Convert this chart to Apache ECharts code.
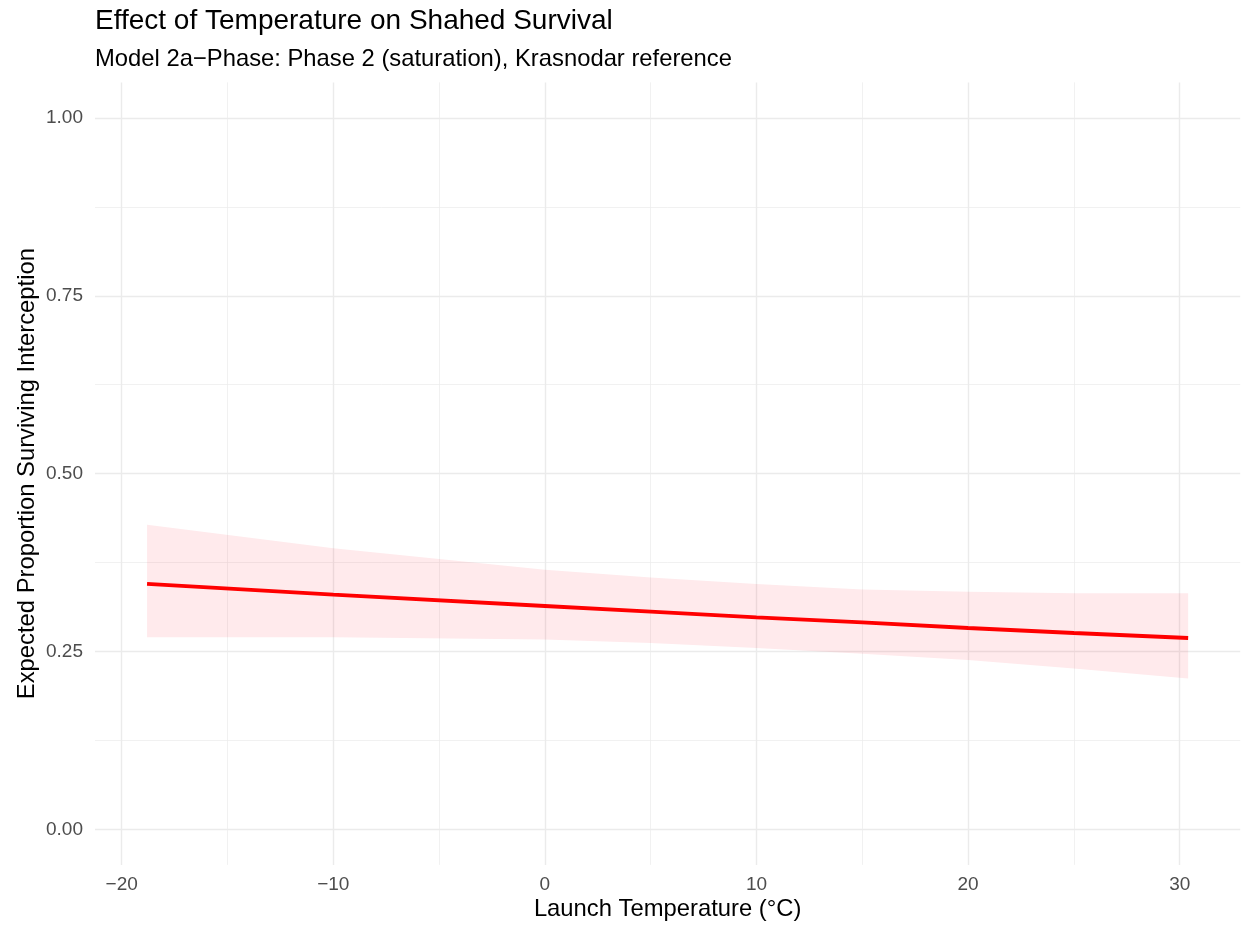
<!DOCTYPE html>
<html>
<head>
<meta charset="utf-8">
<script src="https://cdn.jsdelivr.net/npm/echarts@6/dist/echarts.min.js"></script>
<style>
  html, body { margin: 0; padding: 0; background: #fff; }
  #main { width: 1243px; height: 926px; }
</style>
</head>
<body>
<div id="main"></div>
<script>
// launch temperature (°C) and model predictions
const tempC  = [-18.8, -10, 0, 5, 10, 15, 20, 25, 30.4];
const fitted = [0.345, 0.330, 0.314, 0.306, 0.298, 0.291, 0.283, 0.276, 0.269];
const lower  = [0.270, 0.270, 0.267, 0.262, 0.255, 0.247, 0.238, 0.226, 0.212];
const upper  = [0.428, 0.395, 0.365, 0.354, 0.345, 0.337, 0.334, 0.332, 0.332];

// axis breaks
const xBreaks = [-20, 30, 10];      // min, max, step
const yBreaks = [0, 1, 0.25];

const FONT = "'Liberation Sans', Arial, sans-serif";
const gridCol = "#EBEBEB";

function fmtX(v) {
  return v < 0 ? "\u2212" + Math.abs(v) : String(v);
}

let myChart = echarts.init(document.getElementById("main"), null, { renderer: "canvas" });

myChart.setOption({
  backgroundColor: "#fff",
  animation: false,
  textStyle: { fontFamily: FONT },
  title: [
    {
      text: "Effect of Temperature on Shahed Survival",
      left: 95, top: 7, padding: 0,
      textStyle: { fontSize: 28, fontWeight: "normal", color: "#000", fontFamily: FONT }
    },
    {
      text: "Model 2a\u2212Phase: Phase 2 (saturation), Krasnodar reference",
      left: 95, top: 47, padding: 0,
      textStyle: { fontSize: 23.8, fontWeight: "normal", color: "#000", fontFamily: FONT }
    }
  ],
  grid: [
    // 0: x breaks (vertical grid lines span full panel height)
    { left: 121.7, right: 63.3, top: 82.4, bottom: 61.1, outerBoundsMode: "none" },
    // 1: y breaks (horizontal grid lines span full panel width)
    { left: 95, right: 2.8, top: 118, bottom: 96.7, outerBoundsMode: "none" },
    // 2: data panel (expanded limits)
    { left: 95, right: 2.8, top: 82.4, bottom: 61.1, outerBoundsMode: "none" }
  ],
  xAxis: [
    {
      gridIndex: 0, type: "value",
      min: xBreaks[0], max: xBreaks[1], interval: xBreaks[2],
      axisLine: { show: false }, axisTick: { show: false },
      axisLabel: { color: "#4D4D4D", fontSize: 19, margin: 10, formatter: fmtX, fontFamily: FONT },
      splitLine: { show: true, lineStyle: { color: gridCol, width: 1.4 } },
      minorTick: { show: false, splitNumber: 2 },
      minorSplitLine: { show: true, lineStyle: { color: gridCol, width: 0.7 } }
    },
    {
      gridIndex: 1, type: "value", min: 0, max: 1, show: false
    },
    {
      gridIndex: 2, type: "value", min: -21.26, max: 32.86,
      axisLine: { show: false }, axisTick: { show: false },
      axisLabel: { show: false }, splitLine: { show: false },
      name: "Launch Temperature (\u00B0C)", nameLocation: "middle", nameGap: 33,
      nameTextStyle: { fontSize: 23.8, color: "#000", fontFamily: FONT }
    }
  ],
  yAxis: [
    {
      gridIndex: 0, type: "value", min: 0, max: 1, show: false
    },
    {
      gridIndex: 1, type: "value",
      min: yBreaks[0], max: yBreaks[1], interval: yBreaks[2],
      axisLine: { show: false }, axisTick: { show: false },
      axisLabel: { color: "#4D4D4D", fontSize: 19, margin: 12, formatter: v => v.toFixed(2), fontFamily: FONT },
      splitLine: { show: true, lineStyle: { color: gridCol, width: 1.4 } },
      minorTick: { show: false, splitNumber: 2 },
      minorSplitLine: { show: true, lineStyle: { color: gridCol, width: 0.7 } }
    },
    {
      gridIndex: 2, type: "value", min: -0.05, max: 1.05,
      axisLine: { show: false }, axisTick: { show: false },
      axisLabel: { show: false }, splitLine: { show: false },
      name: "Expected Proportion Surviving Interception", nameLocation: "middle", nameGap: 56,
      nameTextStyle: { fontSize: 23.8, color: "#000", fontFamily: FONT }
    }
  ],
  series: [
    {
      // confidence ribbon
      name: "ribbon",
      type: "custom",
      xAxisIndex: 2, yAxisIndex: 2,
      z: 1,
      silent: true,
      data: tempC.map((t, i) => [t, lower[i], upper[i]]),
      encode: { x: 0, y: [1, 2] },
      renderItem: function (params, api) {
        if (params.dataIndex !== 0) return null;
        const pts = [];
        for (let i = 0; i < tempC.length; i++) pts.push(api.coord([tempC[i], upper[i]]));
        for (let i = tempC.length - 1; i >= 0; i--) pts.push(api.coord([tempC[i], lower[i]]));
        return {
          type: "polygon",
          shape: { points: pts },
          style: { fill: "rgba(250,10,40,0.085)" }
        };
      }
    },
    {
      name: "fit",
      type: "line",
      xAxisIndex: 2, yAxisIndex: 2,
      z: 3,
      symbol: "none",
      data: tempC.map((t, i) => [t, fitted[i]]),
      lineStyle: { color: "#FF0000", width: 3.9 }
    }
  ]
});
</script>
</body>
</html>
